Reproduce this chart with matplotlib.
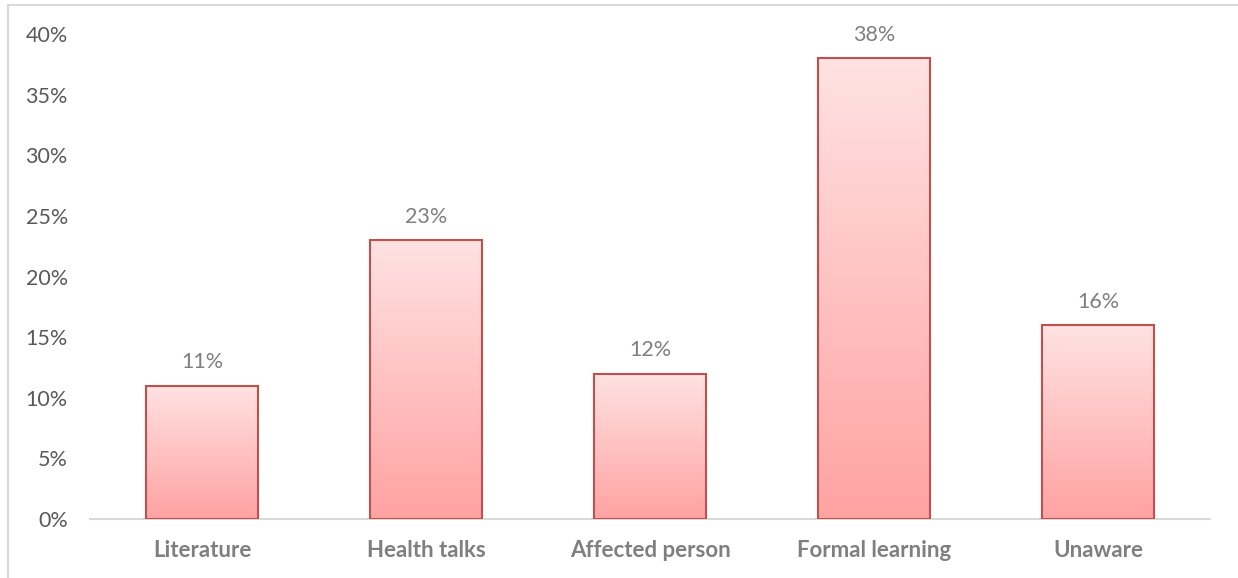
import numpy as np
import matplotlib.pyplot as plt
from matplotlib.colors import LinearSegmentedColormap
from matplotlib.lines import Line2D
from matplotlib.ticker import PercentFormatter

# ---------------------------
# Datos
# ---------------------------
categories = ["Literature", "Health talks", "Affected person", "Formal learning", "Unaware"]
values = [0.11, 0.23, 0.12, 0.38, 0.16]

plt.rcParams["font.family"] = ["Lato", "DejaVu Sans"]

fig = plt.figure(figsize=(12.38, 5.78), dpi=100)
ax = fig.add_axes([0.0727, 0.102, 0.9047, 0.839])

# borde exterior del gráfico (solo se ven arriba e izquierda)
fig.add_artist(Line2D([0.0065, 1.0], [0.991, 0.991], color="#d9d9d9", lw=1.5))
fig.add_artist(Line2D([0.0065, 0.0065], [0.0, 0.991], color="#d9d9d9", lw=1.5))

x = np.arange(len(categories))
bars = ax.bar(x, values, width=0.5, facecolor="none", edgecolor="#c0504d",
              linewidth=1.5, zorder=3)

# relleno degradado por barra
cmap = LinearSegmentedColormap.from_list("grad", ["#ffa2a2", "#ffe2e2"])
grad = np.linspace(0, 1, 256).reshape(-1, 1)
for b in bars:
    x0, y0 = b.get_x(), b.get_y()
    w, h = b.get_width(), b.get_height()
    im = ax.imshow(grad, cmap=cmap, origin="lower", aspect="auto",
                   extent=[x0, x0 + w, y0, y0 + h], zorder=2)
    im.set_clip_path(b)

for xi, v in zip(x, values):
    ax.text(xi, v + 0.011, f"{v * 100:.0f}%", ha="center", va="bottom",
            fontsize=15.5, color="#7f7f7f")

ax.set_xlim(-0.5, len(categories) - 0.5)
ax.set_ylim(0, 0.40)
ax.set_yticks(np.arange(0, 0.41, 0.05))
ax.yaxis.set_major_formatter(PercentFormatter(1.0, decimals=0))
ax.set_xticks(x)
ax.set_xticklabels(categories, fontsize=16, fontweight="bold", color="#7f7f7f")
ax.tick_params(axis="y", labelsize=15.5, labelcolor="#595959", length=0, pad=16)
ax.tick_params(axis="x", length=0, pad=15)

for s in ["top", "right", "left"]:
    ax.spines[s].set_visible(False)
ax.spines["bottom"].set_color("#d9d9d9")
ax.spines["bottom"].set_linewidth(1.5)

fig.savefig("out.png", dpi=100)
